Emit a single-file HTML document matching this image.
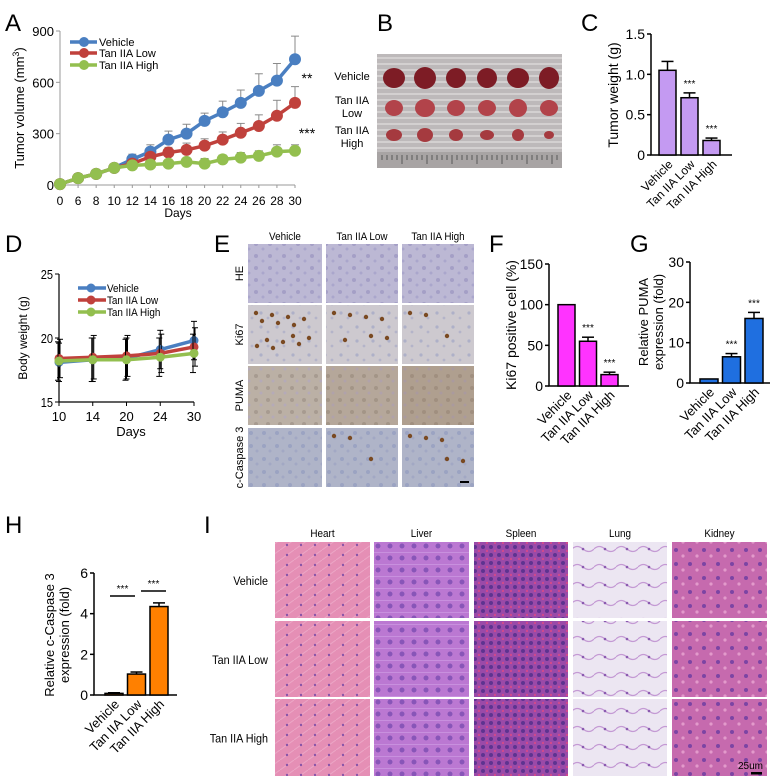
<!DOCTYPE html>
<html><head><meta charset="utf-8">
<style>
html,body{margin:0;padding:0;background:#fff;}
svg{display:block;font-family:"Liberation Sans",sans-serif;}
</style></head>
<body>
<svg id="fig" width="771" height="784" viewBox="0 0 771 784" xmlns="http://www.w3.org/2000/svg">
<defs>
<pattern id="pHE" width="14" height="12" patternUnits="userSpaceOnUse"><rect width="14" height="12" fill="#bcb8d4"/><circle cx="4" cy="4" r="2" fill="#a49fc6"/><circle cx="11" cy="9" r="1.5" fill="#aaa6cc"/></pattern>
<pattern id="pKi" width="16" height="14" patternUnits="userSpaceOnUse"><rect width="16" height="14" fill="#cdc9cf"/><circle cx="5" cy="5" r="1.6" fill="#aeb0c8"/><circle cx="12" cy="10" r="1.4" fill="#b4b4c9"/></pattern>
<pattern id="pPU" width="12" height="12" patternUnits="userSpaceOnUse"><rect width="12" height="12" fill="#bbb0a5"/><circle cx="4" cy="4" r="2" fill="#a79b90"/><circle cx="9" cy="9" r="1.5" fill="#b5aab8"/></pattern>
<pattern id="pCC" width="13" height="13" patternUnits="userSpaceOnUse"><rect width="13" height="13" fill="#afb4c8"/><circle cx="4" cy="4" r="2" fill="#9ba3c2"/><circle cx="10" cy="9" r="1.5" fill="#a2a8c4"/></pattern>
<pattern id="pHeart" width="14" height="10" patternUnits="userSpaceOnUse"><rect width="14" height="10" fill="#e58fb5"/><line x1="0" y1="10" x2="14" y2="0" stroke="#eca6c6" stroke-width="1"/><circle cx="7" cy="5" r="1.2" fill="#8a55a8"/></pattern>
<pattern id="pLiver" width="12" height="12" patternUnits="userSpaceOnUse"><rect width="12" height="12" fill="#bb78d2"/><circle cx="6" cy="6" r="2.5" fill="#8855b8"/><line x1="0" y1="0" x2="12" y2="0" stroke="#d4a8ea"/></pattern>
<pattern id="pSpleen" width="8" height="8" patternUnits="userSpaceOnUse"><rect width="8" height="8" fill="#9a4aa8"/><circle cx="3" cy="3" r="2" fill="#5e3390"/><circle cx="7" cy="7" r="1.2" fill="#d04a8c"/></pattern>
<pattern id="pLung" width="22" height="18" patternUnits="userSpaceOnUse"><rect width="22" height="18" fill="#ece6f2"/><path d="M0 9 Q5 4 11 9 T22 9" stroke="#c49ad4" stroke-width="1.2" fill="none"/><circle cx="11" cy="9" r="1.3" fill="#8a5ab0"/></pattern>
<pattern id="pKidney" width="14" height="14" patternUnits="userSpaceOnUse"><rect width="14" height="14" fill="#c66aae"/><circle cx="4" cy="4" r="2" fill="#7c44a4"/><circle cx="11" cy="10" r="1.6" fill="#e39acb"/></pattern>
</defs>
<g id="root"></g>
</svg>
<script>
// ---- Panel A data ----
const daysA = [0,6,8,10,12,14,16,18,20,22,24,26,28,30];
const vehA = [5,40,65,100,150,195,265,300,375,425,480,550,610,735];
const vehAErr = [0,8,10,15,30,40,50,55,45,65,75,100,100,135];
const lowA = [5,40,65,100,125,165,190,205,230,265,305,345,405,480];
const lowAErr = [0,8,10,15,20,25,30,40,40,45,55,65,90,95];
const highA = [5,40,65,100,115,120,125,135,125,150,160,170,195,200];
const highAErr = [0,8,10,15,15,15,20,20,30,25,30,30,40,35];
const ticksA = [0,300,600,900];
// ---- Panel D data ----
const daysD = [10,14,20,24,30];
const vehD = [18.1,18.3,18.4,19.1,19.8];
const lowD = [18.4,18.5,18.6,18.8,19.3];
const highD = [18.2,18.3,18.3,18.5,18.8];
const errD = [1.5,1.7,1.6,1.5,1.5];
const ticksD = [15,20,25];
// ---- Bar panels ----
const groups = ["Vehicle","Tan IIA Low","Tan IIA High"];
const weightC = [1.05,0.71,0.18];
const weightCErr = [0.11,0.06,0.03];
const ticksC = ["0","0.5","1.0","1.5"];
const ki67F = [100,55,14];
const ki67FErr = [0,5,3];
const ticksF = [0,50,100,150];
const pumaG = [1,6.5,16];
const pumaGErr = [0,0.8,1.5];
const ticksG = [0,10,20,30];
const caspH = [0.08,1.03,4.35];
const caspHErr = [0.03,0.1,0.18];
const ticksH = [0,2,4,6];

const NS = "http://www.w3.org/2000/svg";
const root = document.getElementById('root');
function mk(tag, attrs, parent){
  const e = document.createElementNS(NS, tag);
  for (const k in attrs) e.setAttribute(k, attrs[k]);
  (parent||root).appendChild(e);
  return e;
}
function txt(s, x, y, size, anchor, parent, extra){
  const t = mk('text', Object.assign({x:x, y:y, 'font-size':size, 'text-anchor':anchor||'start', fill:'#000'}, extra||{}), parent);
  t.textContent = s;
  return t;
}
function grp(name){
  const g = mk('g', {});
  
  
  return g;
}

// Panel letters
const letters = [["A",5,31],["B",377,31],["C",581,31],["D",5,252],["E",214,252],["F",489,252],["G",630,252],["H",5,533],["I",204,533]];
letters.forEach(l=>{
  const t = txt(l[0], l[1], l[2], 24, 'start');
  
  
});

// ---------- Panel A ----------
(function(){
  const g = grp('panel-a-tumor-volume-chart');
  const X0 = 60, X1 = 295, Y0 = 185, Y1 = 31;
  const xs = i => X0 + i*(X1-X0)/(daysA.length-1);
  const ys = v => Y0 - v/900*(Y0-Y1);
  const ax = mk('path', {d:`M${X0} ${Y1} V${Y0} H${X1}`, stroke:'#999', fill:'none', 'stroke-width':1}, g);
   
  ticksA.forEach(v=>{
    mk('line',{x1:X0-4,x2:X0,y1:ys(v),y2:ys(v),stroke:'#999'},g);
    const t = txt(String(v), X0-6, ys(v)+5, 13, 'end', g);
     
  });
  daysA.forEach((d,i)=>{
    mk('line',{x1:xs(i),x2:xs(i),y1:Y0,y2:Y0+3,stroke:'#999'},g);
    const t = txt(String(d), xs(i), 205, 12, 'middle', g);
     
  });
  const xt = txt('Days', 178, 217, 12, 'middle', g);
   
  const yt = mk('text',{x:0,y:0,'font-size':13,'text-anchor':'middle',transform:`translate(24,108) rotate(-90)`},g);
  yt.innerHTML = 'Tumor volume (mm<tspan dy="-5" font-size="9">3</tspan><tspan dy="5">)</tspan>';
   
  const series = [[vehA,vehAErr,'#4a7fc1','vehicle'],[lowA,lowAErr,'#c0413c','tan-iia-low'],[highA,highAErr,'#93bf4f','tan-iia-high']];
  series.forEach(s=>{
    const sg = mk('g',{},g);
    
    
    s[0].forEach((v,i)=>{ if(s[1][i]>0){
      mk('line',{x1:xs(i),x2:xs(i),y1:ys(v),y2:ys(v+s[1][i]),stroke:'#8a8a8a','stroke-width':1},sg);
      mk('line',{x1:xs(i)-4,x2:xs(i)+4,y1:ys(v+s[1][i]),y2:ys(v+s[1][i]),stroke:'#8a8a8a','stroke-width':1},sg);
    }});
    const pl = mk('polyline',{points:s[0].map((v,i)=>xs(i)+','+ys(v)).join(' '),stroke:s[2],'stroke-width':3.5,fill:'none'},sg);
     
    s[0].forEach((v,i)=>{
      const c = mk('circle',{cx:xs(i),cy:ys(v),r:6,fill:s[2]},sg);
       
    });
  });
  const sig1 = txt('**', 307, 83, 14, 'middle', g);  
  const sig2 = txt('***', 307, 138, 14, 'middle', g);  
  const lg = mk('g',{},g);
   
  [['Vehicle','#4a7fc1',42],['Tan IIA Low','#c0413c',53],['Tan IIA High','#93bf4f',65]].forEach(l=>{
    const e = mk('g',{},lg);
     
    mk('line',{x1:70,x2:97,y1:l[2],y2:l[2],stroke:l[1],'stroke-width':3.5},e);
    mk('circle',{cx:84,cy:l[2],r:5,fill:l[1]},e);
    txt(l[0],99,l[2]+4,11,'start',e);
  });
})();

// ---------- Panel B photo ----------
(function(){
  const g = grp('panel-b-tumor-photo');
  mk('rect',{x:377,y:54,width:185,height:114,fill:'#bdb9ba'},g);
  for(let y=58;y<150;y+=6) mk('line',{x1:377,x2:562,y1:y,y2:y,stroke:'#d3d0d0','stroke-width':2},g);
  mk('rect',{x:377,y:152,width:185,height:16,fill:'#a8a4a4'},g);
  for(let x=382;x<560;x+=5) mk('line',{x1:x,x2:x,y1:155,y2:x%25<5?164:160,stroke:'#444','stroke-width':0.8},g);
  const rows=[[78,[[11,10],[11,11],[10,10],[10,10],[11,10],[10,11]],'#7d1c25'],
              [108,[[9,8],[10,9],[9,8],[9,8],[9,9],[9,8]],'#b2434a'],
              [135,[[8,6],[8,7],[7,6],[7,5],[6,6],[5,4]],'#a53a3f']];
  rows.forEach(r=>{
    r[1].forEach((s,i)=>{
      const e = mk('ellipse',{cx:394+i*31,cy:r[0],rx:s[0],ry:s[1],fill:r[2]},g);
       
    });
  });
  [['Vehicle',352,80],['Tan IIA',352,104],['Low',352,117],['Tan IIA',352,134],['High',352,147]].forEach(l=>{
    const t = txt(l[0],l[1],l[2],11,'middle',g);
     
  });
})();

// ---------- Bar chart helper ----------
function barChart(name, vals, errs, ticks, maxV, X0, Y0, Y1, barStart, step, bw, axisEnd, color, sigs, labelSize){
  const g = grp(name);
  const ys = v => Y0 - v/maxV*(Y0-Y1);
  const ax = mk('path',{d:`M${X0} ${Y1} V${Y0} H${axisEnd}`,stroke:'#000',fill:'none','stroke-width':1.5},g);
   
  ticks.forEach(tv=>{
    const v = parseFloat(tv);
    mk('line',{x1:X0-4,x2:X0,y1:ys(v),y2:ys(v),stroke:'#000','stroke-width':1.5},g);
    const t = txt(String(tv), X0-6, ys(v)+5, 14, 'end', g);
     
  });
  vals.forEach((v,i)=>{
    const x = barStart + i*step;
    const b = mk('rect',{x:x,y:ys(v),width:bw,height:Y0-ys(v),fill:color,stroke:'#000','stroke-width':1.5},g);
    
    
    if(errs[i]>0){
      mk('line',{x1:x+bw/2,x2:x+bw/2,y1:ys(v),y2:ys(v+errs[i]),stroke:'#000','stroke-width':1.5},g);
      mk('line',{x1:x+bw/2-6,x2:x+bw/2+6,y1:ys(v+errs[i]),y2:ys(v+errs[i]),stroke:'#000','stroke-width':1.5},g);
    }
    if(sigs && sigs[i]){
      const s = txt(sigs[i], x+bw/2, ys(v+errs[i])-6, 10, 'middle', g);
       
    }
    const lt = txt(groups[i], 0, 0, labelSize, 'end', g, {transform:`translate(${x+bw/2+6},${Y0+10}) rotate(-45)`});
     
  });
  return g;
}
const gC = barChart('panel-c-tumor-weight-chart', weightC, weightCErr, ticksC, 1.5, 651, 155, 34, 659, 22, 17, 732, '#c49af2', [null,'***','***'], 12);
const gF = barChart('panel-f-ki67-chart', ki67F, ki67FErr, ticksF, 150, 549, 386, 264, 558, 21.5, 17, 629, '#ff33ff', [null,'***','***'], 13);
const gG = barChart('panel-g-puma-chart', pumaG, pumaGErr, ticksG, 30, 690, 383, 262, 700, 22.5, 18, 770, '#1f6fe0', [null,'***','***'], 13);
const gH = barChart('panel-h-caspase-chart', caspH, caspHErr, ticksH, 6, 94, 695, 573, 105, 22.5, 18, 177, '#ff8000', null, 13);

function vlabel(lines, x, cy, size, gap, parent){
  lines.forEach((s,i)=>{
    const t = txt(s, 0, 0, size, 'middle', parent, {transform:`translate(${x + i*gap},${cy}) rotate(-90)`});
     
  });
}
vlabel(['Tumor weight (g)'], 618, 95, 14, 0, gC);
vlabel(['Ki67 positive cell (%)'], 516, 325, 14, 0, gF);
vlabel(['Relative PUMA','expression (fold)'], 648, 322, 13, 15, gG);
vlabel(['Relative c-Caspase 3','expression (fold)'], 54, 635, 13, 15, gH);
// brackets in H
[[110,135,596],[141,166,591]].forEach(b=>{
  const l = mk('line',{x1:b[0],x2:b[1],y1:b[2],y2:b[2],stroke:'#000','stroke-width':1.5},gH);
   
  const s = txt('***',(b[0]+b[1])/2,b[2]-4,10,'middle',gH);
   
});

// ---------- Panel D ----------
(function(){
  const g = grp('panel-d-body-weight-chart');
  const X0=59, X1=194, Y0=402, Y1=274;
  const xs = i => X0 + i*(X1-X0)/(daysD.length-1);
  const ys = v => Y0 - (v-15)/10*(Y0-Y1);
  const ax = mk('path',{d:`M${X0} ${Y1} V${Y0} H${X1}`,stroke:'#000',fill:'none','stroke-width':1.2},g);
   
  ticksD.forEach(v=>{
    mk('line',{x1:X0-4,x2:X0,y1:ys(v),y2:ys(v),stroke:'#000'},g);
    const t = txt(String(v),X0-6,ys(v)+5,13,'end',g,{'transform':`scale(0.85,1)`,'x':(X0-6)/0.85});
     
  });
  daysD.forEach((d,i)=>{
    mk('line',{x1:xs(i),x2:xs(i),y1:Y0,y2:Y0+4,stroke:'#000'},g);
    const t = txt(String(d),xs(i),421,13,'middle',g);
     
  });
  const xt = txt('Days',131,436,13,'middle',g);
   
  const yt = txt('Body weight (g)',0,0,12,'middle',g,{transform:'translate(27,338) rotate(-90)'});
   
  [[vehD,'#4a7fc1','vehicle',0],[lowD,'#c0413c','tan-iia-low',1],[highD,'#93bf4f','tan-iia-high',-1]].forEach(s=>{
    const sg = mk('g',{},g);
     
    s[0].forEach((v,i)=>{
      const x = xs(i)+s[3];
      mk('line',{x1:x,x2:x,y1:ys(v-errD[i]),y2:ys(v+errD[i]),stroke:'#000','stroke-width':1},sg);
      mk('line',{x1:x-3,x2:x+3,y1:ys(v+errD[i]),y2:ys(v+errD[i]),stroke:'#000'},sg);
      mk('line',{x1:x-3,x2:x+3,y1:ys(v-errD[i]),y2:ys(v-errD[i]),stroke:'#000'},sg);
    });
    const pl = mk('polyline',{points:s[0].map((v,i)=>xs(i)+','+ys(v)).join(' '),stroke:s[1],'stroke-width':3.5,fill:'none'},sg);
     
    s[0].forEach((v,i)=>{
      const c = mk('circle',{cx:xs(i),cy:ys(v),r:4.5,fill:s[1]},sg);
       
    });
  });
  const lg = mk('g',{},g);
   
  [['Vehicle','#4a7fc1',288],['Tan IIA Low','#c0413c',300],['Tan IIA High','#93bf4f',312]].forEach(l=>{
    const e = mk('g',{},lg);
     
    mk('line',{x1:78,x2:106,y1:l[2],y2:l[2],stroke:l[1],'stroke-width':3.5},e);
    mk('circle',{cx:91,cy:l[2],r:4.5,fill:l[1]},e);
    txt(l[0],107,l[2]+4,11,'start',e,{transform:`scale(0.9,1)`,x:107/0.9});
  });
})();

// ---------- Panel E IHC grid ----------
(function(){
  const g = grp('panel-e-ihc-grid');
  const cols=[[248,74],[326,72],[402,72]];
  const rows=[[244,59,'pHE','HE'],[305,59,'pKi','Ki67'],[366,59,'pPU','PUMA'],[428,59,'pCC','c-Caspase 3']];
  const heads=['Vehicle','Tan IIA Low','Tan IIA High'];
  cols.forEach((c,i)=>{
    const t = txt(heads[i],c[0]+c[1]/2,240,11,'middle',g,{transform:'scale(0.9,1)',x:(c[0]+c[1]/2)/0.9});
     
  });
  rows.forEach(r=>{
    const t = txt(r[3],0,0,11,'middle',g,{transform:`translate(243,${r[0]+r[1]/2}) rotate(-90)`});
     
    cols.forEach((c,ci)=>{
      const im = mk('rect',{x:c[0],y:r[0],width:c[1],height:r[1],fill:`url(#${r[2]})`},g);
       
      if(r[3]==='Ki67' || r[3]==='c-Caspase 3' || r[3]==='PUMA'){
        const n = r[3]==='Ki67' ? [14,7,3][ci] : r[3]==='PUMA'? 0 : [0,3,5][ci];
        for(let k=0;k<n;k++) mk('circle',{cx:c[0]+8+((k*37)%58),cy:r[0]+8+((k*23)%44),r:2.2,fill:'#7a4a22'},g);
        if(r[3]==='PUMA' && ci>0) mk('rect',{x:c[0],y:r[0],width:c[1],height:r[1],fill:'#8a6a4a',opacity:ci*0.12},g);
      }
    });
  });
  mk('rect',{x:460,y:481,width:9,height:2,fill:'#000'},g);
})();

// ---------- Panel I H&E grid ----------
(function(){
  const g = grp('panel-i-organ-histology-grid');
  const cols=[[275,95,'pHeart','Heart'],[374,95,'pLiver','Liver'],[474,94,'pSpleen','Spleen'],[573,94,'pLung','Lung'],[672,95,'pKidney','Kidney']];
  const rows=[[542,76,'Vehicle'],[621,76,'Tan IIA Low'],[699,77,'Tan IIA High']];
  cols.forEach(c=>{
    const t = txt(c[3],c[0]+c[1]/2,537,11,'middle',g,{transform:'scale(0.9,1)',x:(c[0]+c[1]/2)/0.9});
     
  });
  rows.forEach(r=>{
    const t = txt(r[2],268,r[0]+r[1]/2+5,12,'end',g,{transform:'scale(0.9,1)',x:268/0.9});
     
    cols.forEach(c=>{
      const im = mk('rect',{x:c[0],y:r[0],width:c[1],height:r[1],fill:`url(#${c[2]})`},g);
       
    });
  });
  const sb = txt('25um',763,769,10,'end',g);
   
  mk('rect',{x:751,y:772,width:11,height:2.5,fill:'#000'},g);
})();
</script>
</body></html>
